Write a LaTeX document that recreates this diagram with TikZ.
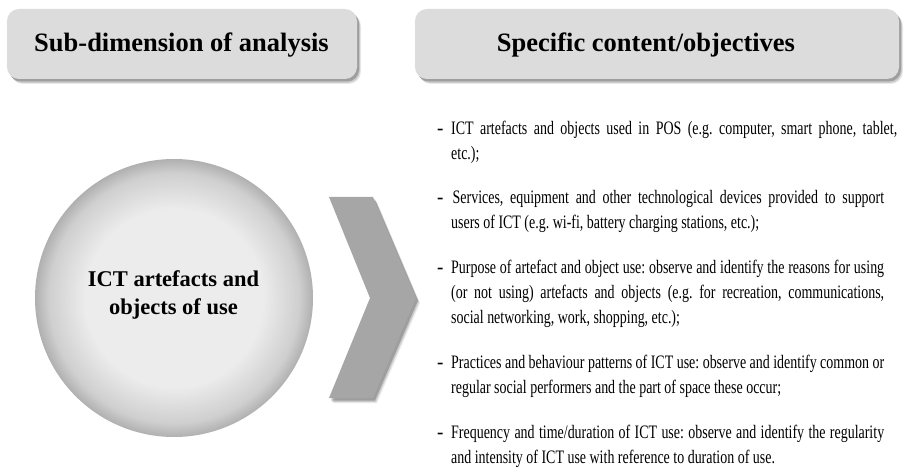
\documentclass[tikz,border=0pt]{standalone}
\usepackage{fontspec}
\usepackage{graphicx}
\setmainfont{Liberation Serif}
\definecolor{hdrfill}{HTML}{DCDCDC}
\definecolor{chev}{HTML}{A6A6A6}
\definecolor{cin}{HTML}{ECECEC}
\definecolor{cmid}{HTML}{CFCFCF}
\definecolor{cout}{HTML}{B0B0B0}
\pgfdeclareradialshading{ballshade}{\pgfpoint{0bp}{0bp}}{color(0bp)=(cin); color(16bp)=(cin); color(22.5bp)=(cmid); color(25bp)=(cout); color(50bp)=(cout)}
\newcommand{\myspacing}{\frenchspacing\spaceskip=4.75pt plus 8pt minus 1.8pt\relax}
\newcommand{\sqline}[1]{\scalebox{0.735}[1]{\myspacing #1}}
\newcommand{\jline}[2]{\scalebox{0.735}[1]{\myspacing\makebox[#1][s]{#2}}}
\newcommand{\dashmark}{\makebox[14pt][l]{\textbf{-}}}
\newcommand{\indentline}{\hspace*{14pt}}
\begin{document}
\begin{tikzpicture}[x=1pt,y=-1pt,
  shadowed/.style={
    preaction={fill=black, opacity=0.08, transform canvas={xshift=4pt,yshift=-5pt}},
    preaction={fill=black, opacity=0.14, transform canvas={xshift=3pt,yshift=-4pt}},
    preaction={fill=black, opacity=0.22, transform canvas={xshift=2pt,yshift=-2.5pt}}},
  hdr/.style={shadowed, rounded corners=12pt, fill=hdrfill, inner sep=0pt, minimum height=70pt},
  hdrtext/.style={font=\bfseries\fontsize{26.5}{30}\selectfont, inner sep=0pt, anchor=base},
  itemtext/.style={anchor=base west, inner sep=0pt, text width=470pt, align=left,
    font=\fontsize{19}{25}\selectfont},
]
\useasboundingbox (0,0) rectangle (906,476);
% headers
\node[hdr, minimum width=350pt] (h1) at (182,44) {};
\node[hdrtext] (h1t) at (181.5,52) {Sub-dimension of analysis};
\node[hdr, minimum width=484pt] (h2) at (657,44) {};
\node[hdrtext] (h2t) at (646,52) {Specific content/objectives};
% circle
\node[circle, shade, shading=ballshade, minimum size=278pt, inner sep=0pt] (ball) at (174,298) {};
\node[font=\bfseries\fontsize{22.5}{28}\selectfont, align=center, inner sep=0pt, anchor=base] (ballt) at (173.5,314) {ICT artefacts and\\objects of use};
% chevron
\fill[chev, shadowed] (329,197) -- (373,197) -- (416,298) -- (373,398) -- (329,398) -- (370,298) -- cycle;
% items
\node[itemtext] (i1) at (437,135) {\dashmark\jline{606.8pt}{ICT artefacts and objects used in POS (e.g. computer, smart phone, tablet,}\\
\indentline\sqline{etc.);}};
\node[itemtext] (i2) at (437,204) {\dashmark\jline{589.1pt}{\hspace{2pt}Services, equipment and other technological devices provided to support}\\
\indentline\sqline{users of ICT (e.g. wi-fi, battery charging stations, etc.);}};
\node[itemtext] (i3) at (437,273) {\dashmark\jline{589.1pt}{Purpose of artefact and object use: observe and identify the reasons for using}\\
\indentline\jline{589.1pt}{(or not using) artefacts and objects (e.g. for recreation, communications,}\\
\indentline\sqline{social networking, work, shopping, etc.);}};
\node[itemtext] (i4) at (437,368) {\dashmark\jline{589.1pt}{Practices and behaviour patterns of ICT use: observe and identify common or}\\
\indentline\sqline{regular social performers and the part of space these occur;}};
\node[itemtext] (i5) at (437,438) {\dashmark\jline{589.1pt}{Frequency and time/duration of ICT use: observe and identify the regularity}\\
\indentline\sqline{and intensity of ICT use with reference to duration of use.}};
\end{tikzpicture}
\end{document}
